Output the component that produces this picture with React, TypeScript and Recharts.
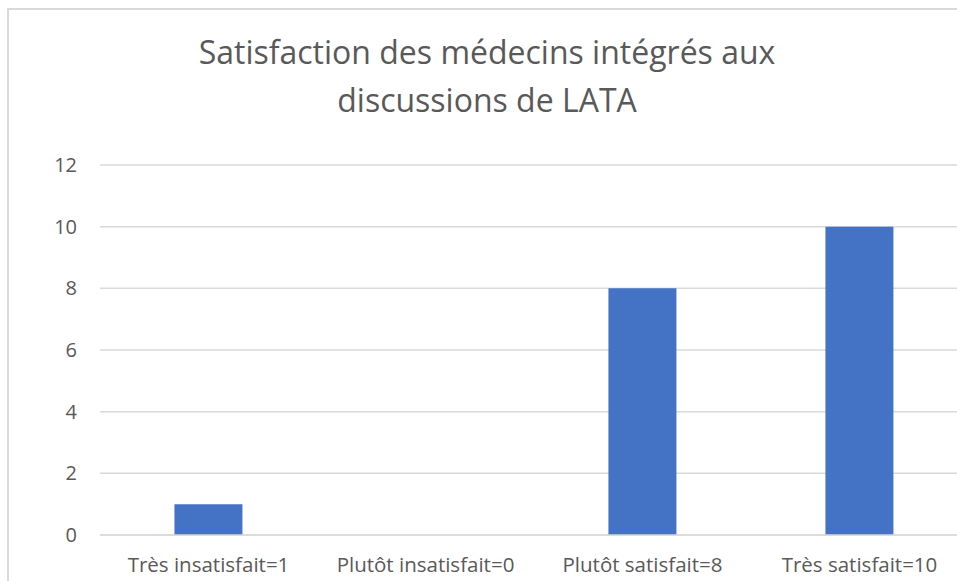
import { BarChart, Bar, XAxis, YAxis, CartesianGrid } from "recharts";

const categories = [
  "Très insatisfait=1",
  "Plutôt insatisfait=0",
  "Plutôt satisfait=8",
  "Très satisfait=10",
];
const counts = [1, 0, 8, 10];
const yTicks = [0, 2, 4, 6, 8, 10, 12];
const titleLines = ["Satisfaction des médecins intégrés aux", "discussions de LATA"];

const chartData = categories.map((name, i) => ({ name, value: counts[i] }));

const FONT = "'Open Sans', 'Noto Sans', sans-serif";
const TEXT = "#595959";
const GRID = "#d9d9d9";

export default function App() {
  return (
    <div
      style={{
        position: "absolute",
        left: 0,
        top: 0,
        width: 957,
        height: 581,
        overflow: "hidden",
        background: "#fff",
        fontFamily: FONT,
      }}
    >
      <div
        style={{
          position: "absolute",
          left: 7,
          top: 8,
          width: 1000,
          height: 620,
          border: `2px solid ${GRID}`,
        }}
      />
      <div
        style={{
          position: "absolute",
          left: 0,
          width: 974,
          top: 28,
          textAlign: "center",
          color: TEXT,
          fontSize: 32,
          lineHeight: "48px",
        }}
      >
        {titleLines.map((t) => (
          <div key={t}>{t}</div>
        ))}
      </div>
      <div style={{ position: "absolute", left: 0, top: 0 }}>
        <BarChart
          width={1000}
          height={600}
          data={chartData}
          margin={{ top: 165, right: 32, left: 0, bottom: 25 }}
          barCategoryGap="34.3%"
        >
          <CartesianGrid vertical={false} stroke={GRID} strokeWidth={1.5} />
          <XAxis
            dataKey="name"
            height={40}
            tickSize={0}
            tickMargin={22}
            axisLine={{ stroke: GRID, strokeWidth: 1.5 }}
            tickLine={false}
            interval={0}
            tick={{ fill: TEXT, fontSize: 20.5, fontFamily: FONT }}
          />
          <YAxis
            width={100}
            domain={[0, 12]}
            ticks={yTicks}
            axisLine={false}
            tickLine={false}
            tickSize={0}
            tickMargin={23}
            tick={{ fill: TEXT, fontSize: 20, fontFamily: FONT }}
          />
          <Bar dataKey="value" fill="#4472C4" isAnimationActive={false} />
        </BarChart>
      </div>
    </div>
  );
}
